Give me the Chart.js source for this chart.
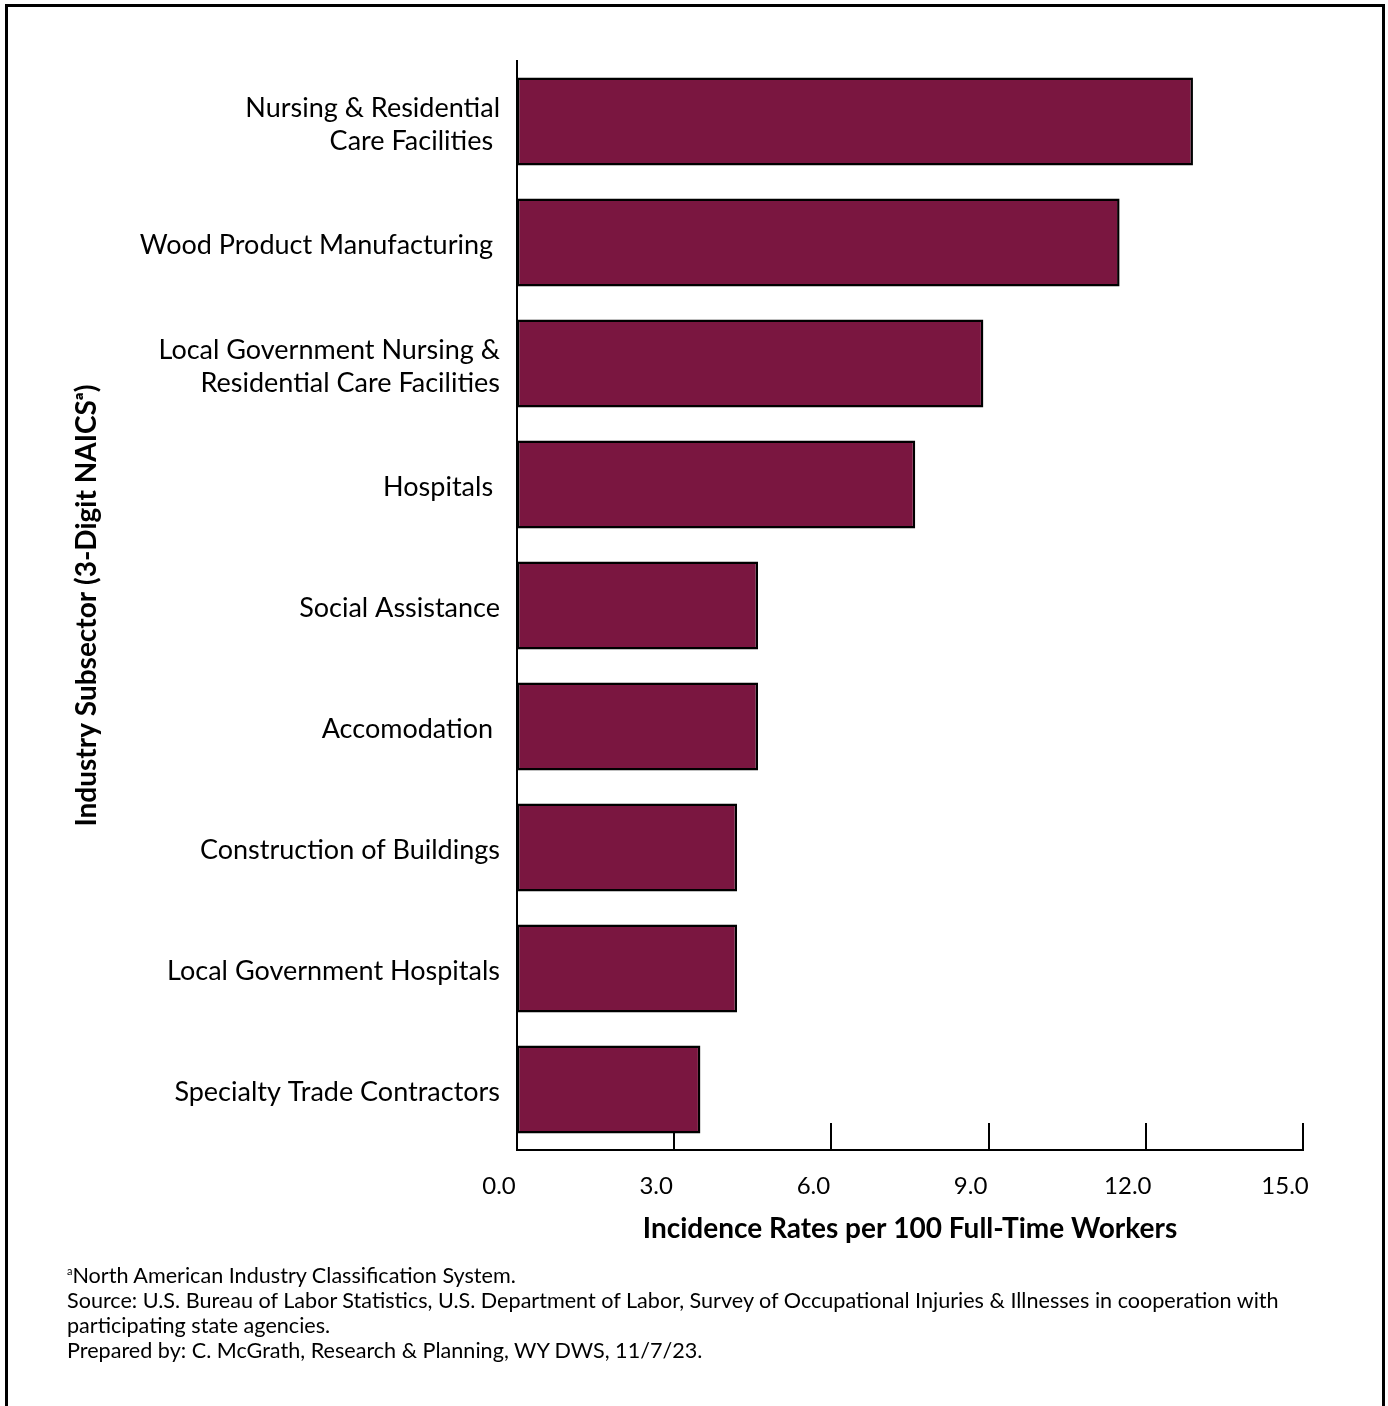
<!DOCTYPE html>
<html>
<head>
<meta charset="utf-8">
<script src="https://cdn.jsdelivr.net/npm/chart.js@4/dist/chart.umd.min.js"></script>
<style>
  html, body { margin: 0; padding: 0; background: #fff; overflow: hidden; }
  #frame { position: absolute; left: 5px; top: 4px; width: 1374px; height: 1500px; border: 3px solid #000; }
  #wrap { position: absolute; left: 0; top: 0; width: 1388px; height: 1406px; }
  #notes { position: absolute; left: 67px; top: 1263px; font-family: Lato, sans-serif; font-size: 21.6px; line-height: 25px; color: #000; }
  #notes sup { font-size: 11px; vertical-align: 8px; line-height: 0; }
</style>
</head>
<body>
<div id="frame"></div>
<div id="wrap"><canvas id="chart1"></canvas></div>
<div id="notes">
  <div><sup>a</sup>North American Industry Classification System.</div>
  <div>Source: U.S. Bureau of Labor Statistics, U.S. Department of Labor, Survey of Occupational Injuries &amp; Illnesses in cooperation with<br>participating state agencies.</div>
  <div>Prepared by: C. McGrath, Research &amp; Planning, WY DWS, 11/7/23.</div>
</div>
<script>
const categories = [
  ["Nursing & Residential", "Care Facilities "],
  "Wood Product Manufacturing ",
  ["Local Government Nursing &", "Residential Care Facilities"],
  "Hospitals ",
  "Social Assistance",
  "Accomodation ",
  "Construction of Buildings",
  "Local Government Hospitals",
  "Specialty Trade Contractors",
];
const rates = [12.9, 11.5, 8.9, 7.6, 4.6, 4.6, 4.2, 4.2, 3.5];
const xTicks = [0, 3, 6, 9, 12, 15];

const ctx = document.getElementById("chart1");

// tick marks stand up from the x axis instead of hanging below it
const upTicks = {
  id: "upTicks",
  beforeDatasetsDraw(chart) {
    const x = chart.scales.x;
    const c = chart.ctx;
    const y0 = chart.chartArea.bottom;
    c.save();
    c.strokeStyle = "#000";
    c.lineWidth = 2;
    xTicks.forEach((v) => {
      const px = Math.round(x.getPixelForValue(v));
      c.beginPath();
      c.moveTo(px, y0);
      c.lineTo(px, y0 - 27);
      c.stroke();
    });
    c.restore();
  },
};

new Chart(ctx, {
  type: "bar",
  data: {
    labels: categories,
    datasets: [
      {
        data: rates,
        backgroundColor: "#7a1640",
        borderColor: "#000",
        borderWidth: 2.5,
        borderSkipped: false,
        categoryPercentage: 1,
        barPercentage: 0.727,
      },
    ],
  },
  options: {
    indexAxis: "y",
    responsive: true,
    maintainAspectRatio: false,
    animation: false,
    layout: { padding: { left: 60, right: 85, top: 61, bottom: 156 } },
    plugins: {
      legend: { display: false },
      tooltip: { enabled: false },
    },
    scales: {
      x: {
        min: 0,
        max: 15,
        afterBuildTicks: (s) => { s.ticks = xTicks.map((v) => ({ value: v })); },
        afterFit: (s) => { s.height = 100; },
        grid: { display: false },
        border: { display: true, color: "#000", width: 2 },
        ticks: {
          padding: 14,
          labelOffset: -18,
          color: "#000",
          font: { family: "Lato", size: 24 },
          callback: (v) => Number(v).toFixed(1),
        },
        title: {
          display: true,
          text: "Incidence Rates per 100 Full-Time Workers",
          color: "#000",
          font: { family: "Lato", size: 28, weight: "bold" },
          padding: { top: 0, bottom: 4 },
        },
      },
      y: {
        afterFit: (s) => { s.width = 517 - 60; },
        grid: { display: false },
        border: { display: true, color: "#000", width: 2 },
        ticks: {
          padding: 9,
          labelOffset: 3,
          color: "#000",
          font: { family: "Lato", size: 27, lineHeight: 1.22 },
        },
        title: {
          display: true,
          text: "Industry Subsector (3-Digit NAICSᵃ)",
          color: "#000",
          font: { family: "Lato", size: 28, weight: "bold" },
          padding: { top: 10, bottom: 0 },
        },
      },
    },
  },
  plugins: [upTicks],
});
</script>
</body>
</html>
